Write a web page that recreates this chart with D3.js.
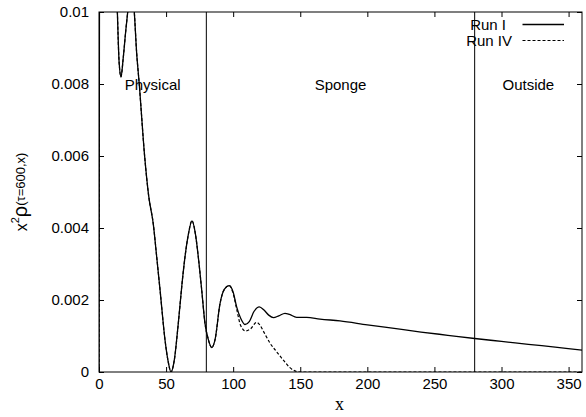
<!DOCTYPE html>
<html>
<head>
<meta charset="utf-8">
<script src="https://cdn.jsdelivr.net/npm/d3@7"></script>
<style>
	body { margin:0; background:#fff; }
	svg text { font-family:"Liberation Sans", Arial, sans-serif; fill:#000; }
</style>
</head>
<body>
<div id="chart"></div>
<script>

//data
//both runs coincide up to the first sponge peak
let xCommon = [0, 0.5, 3, 8, 12, 13.7, 15, 16.4, 18, 20, 21.4, 23.8, 26.3, 28, 30, 34, 37, 40.5, 43, 45.5, 49.2, 51.5, 53.7, 56, 59.1, 62, 64.1, 66.5, 69.3, 72, 74, 76.5, 79, 81.5, 84, 86.5, 90.2, 93.5, 97.1];
let yCommon = [0, 0.015, 0.03, 0.025, 0.0125, 0.01, 0.0086, 0.0082, 0.0087, 0.0095, 0.01, 0.0108, 0.01, 0.0089, 0.008, 0.006, 0.0049, 0.0041, 0.0032, 0.00228, 0.00089, 0.0003, 0, 0.0003, 0.00135, 0.0025, 0.0032, 0.0038, 0.0042, 0.0038, 0.0032, 0.0023, 0.00135, 0.0009, 0.00068, 0.0009, 0.0019, 0.0023, 0.0024];

let xTailI = [100, 102.6, 105.5, 108.8, 112, 115.5, 119.5, 123, 126.5, 130, 134, 138.6, 142, 147.3, 154.8, 164.7, 179.6, 200, 220, 240, 260, 280, 300, 320, 340, 360];
let yTailI = [0.00222, 0.00181, 0.0015, 0.00132, 0.0014, 0.00168, 0.00181, 0.00172, 0.00158, 0.00151, 0.00156, 0.00163, 0.0016, 0.00152, 0.00152, 0.00147, 0.00142, 0.00131, 0.00121, 0.00111, 0.00102, 0.00093, 0.00085, 0.00077, 0.00069, 0.00061];

let xTailIV = [100, 102.6, 105.5, 109.3, 113, 117.5, 120, 123, 127.5, 132, 137.4, 142, 146, 150, 200, 250, 300, 360];
let yTailIV = [0.00218, 0.00175, 0.0013, 0.00114, 0.0012, 0.00138, 0.0013, 0.0011, 0.0008, 0.00058, 0.00033, 0.00013, 0.00003, 0, 0, 0, 0, 0];

let xTicks = [0, 50, 100, 150, 200, 250, 300, 350];
let yTicks = [0, 0.002, 0.004, 0.006, 0.008, 0.01];

let regionBounds = [80, 280];
let regionNames = ["Physical", "Sponge", "Outside"];
let regionCenters = [40, 180, 320];

let seriesNames = ["Run I", "Run IV"];


function graph1(){

	//sizing
	let margin = {top:12, right:4, bottom:45, left:99};
	let width = 586;
	const height = 417;

	let svg = d3.select("#chart")
		.append("svg")
		.attr("width", width)
		.attr("height", height);

	let x = d3.scaleLinear()
		.domain([0, 360])
		.range([margin.left, width - margin.right]);

	let y = d3.scaleLinear()
		.domain([0, 0.01])
		.range([height - margin.bottom, margin.top]);

	let fmtY = (d)=>{ return d === 0 ? "0" : d3.format("")(+d.toFixed(3)); };

	//axes, gnuplot style: ticks inward on all four sides
	let axB = svg.append("g")
		.attr("transform", "translate(0," + y(0) + ")")
		.call(d3.axisBottom(x).tickValues(xTicks).tickSizeInner(-5).tickSizeOuter(0).tickPadding(6));
	let axT = svg.append("g")
		.attr("transform", "translate(0," + y(0.01) + ")")
		.call(d3.axisTop(x).tickValues(xTicks).tickSizeInner(-5).tickSizeOuter(0).tickFormat(""));
	let axL = svg.append("g")
		.attr("transform", "translate(" + x(0) + ",0)")
		.call(d3.axisLeft(y).tickValues(yTicks).tickSizeInner(-5).tickSizeOuter(0).tickPadding(10).tickFormat(fmtY));
	let axR = svg.append("g")
		.attr("transform", "translate(" + x(360) + ",0)")
		.call(d3.axisRight(y).tickValues(yTicks).tickSizeInner(-5).tickSizeOuter(0).tickFormat(""));

	[axB, axT, axL, axR].forEach((a)=>{
		a.select(".domain").remove();
		a.selectAll("line").attr("stroke", "#000");
		a.selectAll("text")
			.attr("font-size", 15)
			.attr("font-family", "Liberation Sans, Arial, sans-serif")
			.attr("fill", "#000");
	});

	//plot frame
	svg.append("rect")
		.attr("x", x(0))
		.attr("y", y(0.01))
		.attr("width", x(360) - x(0))
		.attr("height", y(0) - y(0.01))
		.attr("fill", "none")
		.attr("stroke", "#000")
		.attr("stroke-width", 1);

	//region separators
	svg.selectAll(".sep")
		.data(regionBounds)
		.enter().append("line")
		.attr("class", "sep")
		.attr("x1", (d)=>{return x(d);})
		.attr("x2", (d)=>{return x(d);})
		.attr("y1", y(0.01))
		.attr("y2", y(0))
		.attr("stroke", "#000")
		.attr("stroke-width", 1);

	svg.selectAll(".region")
		.data(regionNames)
		.enter().append("text")
		.attr("class", "region")
		.attr("x", (d, i)=>{return x(regionCenters[i]);})
		.attr("y", 90)
		.attr("text-anchor", "middle")
		.attr("font-size", 15)
		.text((d)=>{return d;});

	//curves
	svg.append("clipPath")
		.attr("id", "clip")
		.append("rect")
		.attr("x", x(0))
		.attr("y", y(0.01))
		.attr("width", x(360) - x(0))
		.attr("height", y(0) - y(0.01));

	let runI = xCommon.concat(xTailI).map((d, i)=>{ return [d, yCommon.concat(yTailI)[i]]; });
	let runIV = xCommon.concat(xTailIV).map((d, i)=>{ return [d, yCommon.concat(yTailIV)[i]]; });

	let line = d3.line()
		.x((d)=>{return x(d[0]);})
		.y((d)=>{return y(d[1]);})
		.curve(d3.curveMonotoneX);

	let curves = svg.append("g").attr("clip-path", "url(#clip)");

	curves.append("path")
		.datum(runIV)
		.attr("d", line)
		.attr("fill", "none")
		.attr("stroke", "#000")
		.attr("stroke-width", 1.2)
		.attr("stroke-dasharray", "3,2");

	curves.append("path")
		.datum(runI)
		.attr("d", line)
		.attr("fill", "none")
		.attr("stroke", "#000")
		.attr("stroke-width", 1.3);

	//key
	let key = svg.append("g");
	let keyY = [24.5, 40.5];
	let keyEnd = [506, 512];
	seriesNames.forEach((name, i)=>{
		key.append("text")
			.attr("x", keyEnd[i])
			.attr("y", keyY[i] + 5)
			.attr("text-anchor", "end")
			.attr("font-size", 15)
			.text(name);
		key.append("line")
			.attr("x1", 522.5)
			.attr("x2", 564)
			.attr("y1", keyY[i])
			.attr("y2", keyY[i])
			.attr("stroke", "#000")
			.attr("stroke-width", i === 0 ? 1.3 : 1.2)
			.attr("stroke-dasharray", i === 0 ? null : "3,2");
	});

	//axis titles
	svg.append("text")
		.attr("x", x(180) - 1)
		.attr("y", 410)
		.attr("text-anchor", "middle")
		.attr("font-size", 18)
		.attr("style", "font-family:'Liberation Serif', 'Times New Roman', serif")
		.text("x");

	let yLab = svg.append("text")
		.attr("transform", "translate(27,192) rotate(-90)")
		.attr("text-anchor", "middle");
	yLab.append("tspan").attr("font-size", 16).text("x");
	yLab.append("tspan").attr("font-size", 11).attr("dy", -8).text("2");
	yLab.append("tspan").attr("font-size", 20).attr("dy", 8).text("ρ");
	yLab.append("tspan").attr("font-size", 13).attr("dy", -2).text("(τ=600,x)");

} //function graph1

graph1();
</script>
</body>
</html>
